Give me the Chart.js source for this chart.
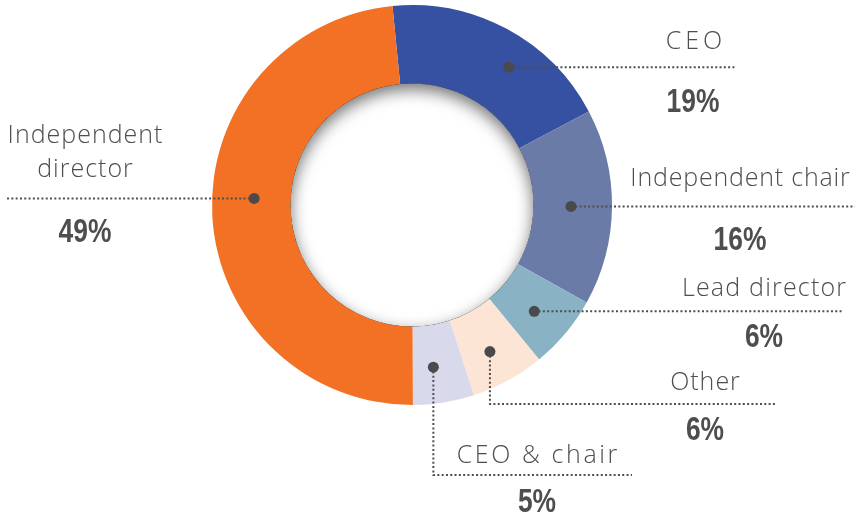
<!DOCTYPE html>
<html>
<head>
<meta charset="utf-8">
<script src="https://cdn.jsdelivr.net/npm/chart.js@4"></script>
<style>
html,body{margin:0;padding:0;background:#fff;}
#wrap{width:857px;height:516px;position:relative;}
</style>
</head>
<body>
<div id="wrap"><canvas id="c" width="857" height="516"></canvas></div>
<script>
// ---- data ----
const categories = ["CEO", "Independent chair", "Lead director", "Other", "CEO & chair", "Independent director"];
const values = [19, 16, 6, 6, 5, 49];
const valueLabels = ["19%", "16%", "6%", "6%", "5%", "49%"];
const colors = ["#3650A2", "#6A7BA7", "#89B3C5", "#FDE5D6", "#D9D9EC", "#F27124"];

// ---- annotation layout (label lines + text) ----
// dot: angle (deg clockwise from top) and radius as fraction of outer radius
const annot = [
  {dotAng: 35.1, dotR: 0.842, path: [["h", 736]], lines: [{t: "CEO", x: 694, y: 49, ls: 4}], pct: {x: 693, y: 112}},
  {dotAng: 90.5, dotR: 0.795, path: [["h", 855]], lines: [{t: "Independent chair", x: 740, y: 186, ls: 0.8}], pct: {x: 740, y: 250}},
  {dotAng: 131, dotR: 0.81, path: [["h", 842]], lines: [{t: "Lead director", x: 764, y: 296, ls: 1.2}], pct: {x: 764, y: 347}},
  {dotAng: 152, dotR: 0.83, path: [["v", 404], ["h", 777]], lines: [{t: "Other", x: 705, y: 390, ls: 1}], pct: {x: 705, y: 440}},
  {dotAng: 172.5, dotR: 0.818, path: [["v", 475], ["h", 632]], lines: [{t: "CEO & chair", x: 537, y: 463, ls: 2.6}], pct: {x: 537, y: 512}},
  {dotAng: 272.4, dotR: 0.79, path: [["h", 5]], lines: [{t: "Independent", x: 85, y: 143, ls: 1}, {t: "director", x: 85, y: 177, ls: 1}], pct: {x: 85, y: 242}}
];

const TEXT_COLOR = "#4e4e50";

const holeShadow = {
  id: "holeShadow",
  afterDatasetsDraw(chart) {
    const arc = chart.getDatasetMeta(0).data[0];
    const {x, y, innerRadius} = arc.getProps(["x", "y", "innerRadius"], true);
    const ctx = chart.ctx;
    ctx.save();
    ctx.beginPath();
    ctx.arc(x, y, innerRadius, 0, Math.PI * 2);
    ctx.clip();
    ctx.beginPath();
    ctx.rect(x - 400, y - 400, 800, 800);
    ctx.arc(x, y, innerRadius, 0, Math.PI * 2, true);
    ctx.shadowColor = "rgba(0,0,0,0.55)";
    ctx.shadowBlur = 16;
    ctx.shadowOffsetY = 6;
    ctx.fillStyle = "#000";
    ctx.fill("evenodd");
    ctx.restore();
  }
};

const annotations = {
  id: "annotations",
  afterDraw(chart) {
    const arc = chart.getDatasetMeta(0).data[0];
    const {x: cx, y: cy, outerRadius} = arc.getProps(["x", "y", "outerRadius"], true);
    const ctx = chart.ctx;
    ctx.save();
    annot.forEach((a, i) => {
      const th = a.dotAng * Math.PI / 180;
      const dx = cx + Math.sin(th) * outerRadius * a.dotR;
      const dy = cy - Math.cos(th) * outerRadius * a.dotR;
      // dotted leader
      ctx.beginPath();
      ctx.strokeStyle = "#4e4e50";
      ctx.lineWidth = 2;
      ctx.setLineDash([2, 2.3]);
      ctx.moveTo(dx, dy);
      let px = dx, py = dy;
      a.path.forEach(([k, v]) => {
        if (k === "h") px = v; else py = v;
        ctx.lineTo(px, py);
      });
      ctx.stroke();
      ctx.setLineDash([]);
      // dot
      ctx.beginPath();
      ctx.fillStyle = "#4a4a4c";
      ctx.arc(dx, dy, 5.5, 0, Math.PI * 2);
      ctx.fill();
      // labels
      ctx.fillStyle = TEXT_COLOR;
      ctx.textAlign = "center";
      ctx.textBaseline = "alphabetic";
      a.lines.forEach(l => {
        ctx.font = "300 25px 'Open Sans', Lato, sans-serif";
        ctx.letterSpacing = l.ls + "px";
        ctx.fillText(l.t, l.x + l.ls / 2, l.y);
      });
      ctx.letterSpacing = "0px";
      // condensed bold percentages
      ctx.save();
      ctx.translate(a.pct.x, a.pct.y);
      ctx.scale(0.8, 1);
      ctx.font = "bold 33px 'Liberation Sans', Arial, sans-serif";
      ctx.fillText(valueLabels[i], 0, 0);
      ctx.restore();
    });
    ctx.restore();
  }
};

new Chart(document.getElementById("c"), {
  type: "doughnut",
  data: {
    labels: categories,
    datasets: [{
      data: values,
      backgroundColor: colors,
      borderWidth: 0,
      hoverOffset: 0
    }]
  },
  options: {
    responsive: false,
    animation: false,
    rotation: -5.6,
    cutout: "60.75%",
    layout: {padding: {top: 5, bottom: 111, left: 12, right: 45}},
    plugins: {legend: {display: false}, tooltip: {enabled: false}}
  },
  plugins: [holeShadow, annotations]
});
</script>
</body>
</html>
